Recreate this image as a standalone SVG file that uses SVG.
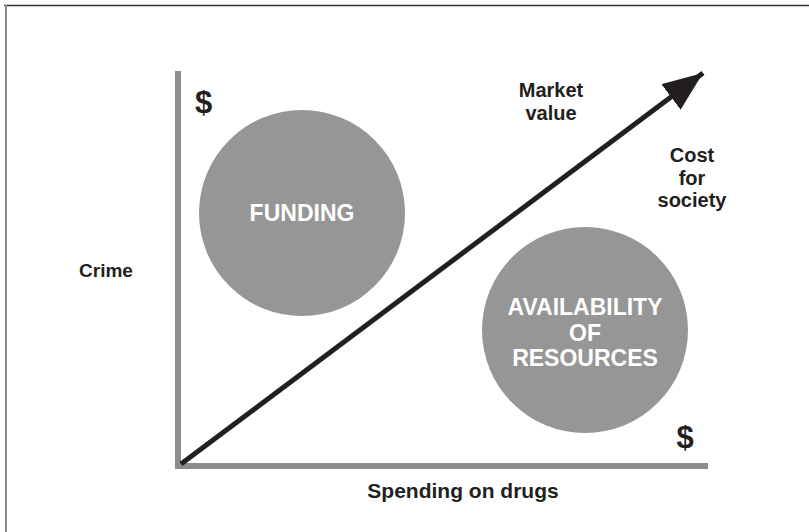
<svg xmlns="http://www.w3.org/2000/svg" width="809" height="532" viewBox="0 0 809 532">
<defs>
<style>
.t{font-family:"Liberation Sans",Arial,sans-serif;font-weight:bold;fill:#231f20;text-anchor:middle}
.c{fill:#969696}
.w{font-family:"Liberation Sans",Arial,sans-serif;font-weight:bold;fill:#ffffff;text-anchor:middle;font-size:23px}
.ax{stroke:#8c8c8c;stroke-width:6;fill:none}
</style>
<marker id="ah" markerUnits="userSpaceOnUse" markerWidth="44" markerHeight="36" refX="40" refY="16" orient="auto" viewBox="0 0 44 36">
<path d="M0,0 L40,16 L0,32 Z" fill="#231f20"/>
</marker>
</defs>
<rect width="809" height="532" fill="#ffffff"/>
<g id="frame">
<line x1="4" y1="5.5" x2="809" y2="5.5" stroke="#333333" stroke-width="1.5"/>
<line x1="6" y1="5" x2="6" y2="532" stroke="#8a8a8a" stroke-width="2"/>
</g>
<g id="connectors">
<line class="ax" x1="178" y1="71" x2="178" y2="469"/>
<line class="ax" x1="175" y1="466" x2="708" y2="466"/>
<line x1="181" y1="464" x2="703" y2="73" stroke="#231f20" stroke-width="5" marker-end="url(#ah)"/>
</g>
<g id="funding">
<circle class="c" cx="302" cy="213" r="103"/>
<text class="w" x="302" y="221">FUNDING</text>
</g>
<g id="availability">
<circle class="c" cx="585" cy="330" r="103"/>
<text class="w" x="585" y="315">AVAILABILITY</text>
<text class="w" x="585" y="341">OF</text>
<text class="w" x="585" y="366">RESOURCES</text>
</g>
<g id="labels">
<text class="t" x="203.5" y="113" font-size="31">$</text>
<text class="t" x="685" y="448" font-size="31">$</text>
<text class="t" x="551" y="97" font-size="20">Market</text>
<text class="t" x="551" y="120" font-size="20">value</text>
<text class="t" x="692" y="162" font-size="20">Cost</text>
<text class="t" x="692" y="185" font-size="20">for</text>
<text class="t" x="692" y="207" font-size="20">society</text>
<text class="t" x="106" y="277" font-size="19">Crime</text>
<text class="t" x="463" y="498" font-size="21">Spending on drugs</text>
</g>
</svg>
